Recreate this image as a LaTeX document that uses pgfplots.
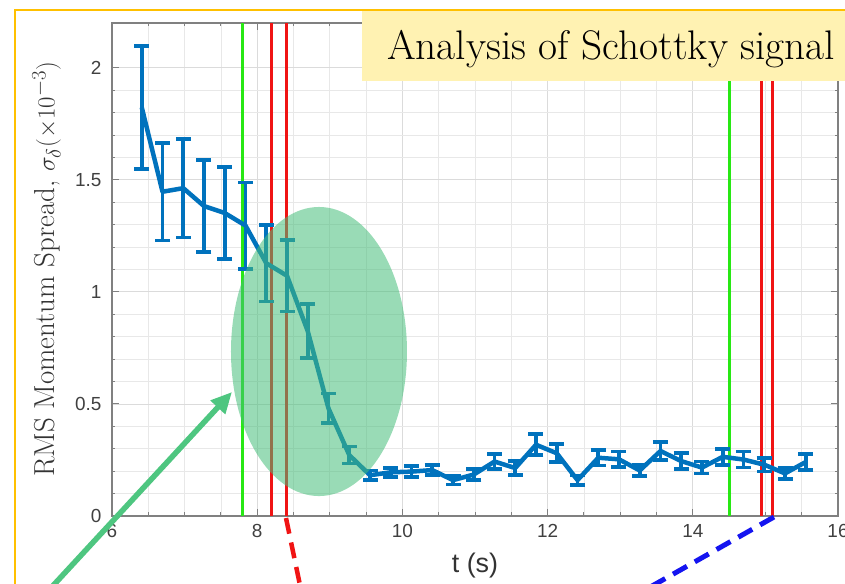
\documentclass[border=0pt]{standalone}
\usepackage{fontspec}
\usepackage{pgfplots}
\usepackage{pgfplotstable}
\pgfplotsset{compat=1.18}
\usetikzlibrary{arrows.meta}
\newfontfamily\arial{Liberation Sans}

\definecolor{matblue}{RGB}{0,114,189}
\definecolor{vgreen}{RGB}{40,232,20}
\definecolor{vred}{RGB}{240,20,20}
\definecolor{mint}{RGB}{70,190,122}
\definecolor{arrowgreen}{RGB}{78,198,128}
\definecolor{dashblue}{RGB}{20,20,240}
\definecolor{boxyellow}{RGB}{255,242,178}
\definecolor{frameorange}{RGB}{255,192,0}

% RMS momentum spread from Schottky spectra: time, mean, half error
\pgfplotstableread{
x       y      e
6.410   1.823  0.274
6.696   1.447  0.218
6.982   1.463  0.220
7.267   1.383  0.206
7.553   1.352  0.205
7.839   1.296  0.193
8.125   1.128  0.171
8.411   1.072  0.160
8.696   0.825  0.121
8.982   0.480  0.066
9.268   0.272  0.038
9.554   0.182  0.021
9.840   0.195  0.020
10.125  0.198  0.024
10.411  0.205  0.022
10.697  0.160  0.020
10.983  0.185  0.024
11.269  0.243  0.033
11.554  0.214  0.031
11.840  0.318  0.047
12.126  0.280  0.040
12.412  0.160  0.021
12.698  0.260  0.034
12.983  0.253  0.034
13.269  0.203  0.025
13.555  0.290  0.040
13.841  0.245  0.035
14.126  0.216  0.027
14.412  0.264  0.036
14.698  0.252  0.035
14.984  0.229  0.031
15.270  0.190  0.025
15.556  0.241  0.036
}\spreaddata

\begin{document}
\begin{tikzpicture}
\path[use as bounding box] (0,0) rectangle (845bp,584bp);
\clip (0,0) rectangle (845bp,584bp);

\begin{axis}[
  at={(112bp,68bp)}, anchor=south west,
  scale only axis, width=726bp, height=493bp,
  xmin=6, xmax=16, ymin=0, ymax=2.2,
  xtick={6,8,10,12,14,16},
  ytick={0,0.5,1,1.5,2},
  minor x tick num=3, minor y tick num=4,
  grid=both,
  major grid style={black!14, line width=0.9bp},
  minor grid style={black!9, line width=0.8bp},
  axis line style={black!50, line width=1.3bp},
  tick style={black!50, line width=1bp},
  tick align=inside,
  major tick length=7bp, minor tick length=3.5bp,
  /pgf/number format/assume math mode=true,
  tick label style={font=\arial\fontsize{19}{19}\selectfont, text=black!75},
  xticklabel style={yshift=-5bp},
  yticklabel style={xshift=-7bp},
  xlabel={t (s)},
  xlabel style={font=\arial\fontsize{27}{27}\selectfont, text=black!80,
    at={(axis description cs:0.5,-0.101)}, anchor=center},
  ylabel={RMS Momentum Spread, $\sigma_\delta(\times 10^{-3})$},
  ylabel style={font=\fontsize{29}{29}\selectfont, text=black!80,
    at={(axis description cs:-0.090,0.5)}, anchor=center},
  clip=true,
]
% cooling start and stop markers
\addplot[vgreen, line width=3bp, forget plot] coordinates {(7.80,0) (7.80,2.2)};
\addplot[vred,   line width=3bp, forget plot] coordinates {(8.20,0) (8.20,2.2)};
\addplot[vred,   line width=3bp, forget plot] coordinates {(8.41,0) (8.41,2.2)};
\addplot[vgreen, line width=3bp, forget plot] coordinates {(14.50,0) (14.50,2.2)};
\addplot[vred,   line width=3bp, forget plot] coordinates {(14.95,0) (14.95,2.2)};
\addplot[vred,   line width=3bp, forget plot] coordinates {(15.10,0) (15.10,2.2)};

% measured spread with error bars
\addplot[matblue, line width=4.5bp, no markers, line join=round,
  error bars/.cd, y dir=both, y explicit,
  error bar style={line width=3.6bp, matblue},
  error mark options={rotate=90, mark size=7.5bp, line width=3.6bp, matblue}]
  table[x=x, y=y, y error=e] {\spreaddata};

% highlighted cooling region
\fill[mint, opacity=0.55] (axis cs:8.851,0.734) ellipse [x radius=1.212, y radius=0.645];
\end{axis}

% title box
\fill[boxyellow] (362bp,502.5bp) rectangle (845bp,574bp);
\node[anchor=base west, inner sep=0pt] at (387bp,524bp)
  {\fontsize{41.5}{41.5}\selectfont Analysis of Schottky signal};

% pointers
\draw[arrowgreen, line width=5.5bp, -{Triangle[length=21bp,width=19bp]}]
  (49bp,-6bp) -- (232bp,192bp);
\draw[vred, line width=4.5bp, dash pattern=on 16bp off 9bp]
  (286bp,66bp) -- (301bp,-6bp);
\draw[dashblue, line width=5bp, dash pattern=on 16bp off 9bp]
  (774bp,67bp) -- (645bp,-6bp);

% slide frame
\draw[frameorange, line width=2.2bp] (15bp,-2bp) -- (15bp,574bp) -- (847bp,574bp);
\end{tikzpicture}
\end{document}
